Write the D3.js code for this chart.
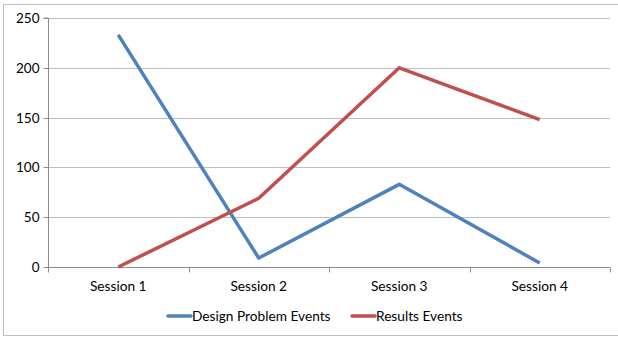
<!DOCTYPE html>
<html>
<head>
<meta charset="utf-8">
<script src="https://cdn.jsdelivr.net/npm/d3@7"></script>
<style>
  html, body { margin: 0; padding: 0; background: #fff; }
  svg { display: block; }
  text { font-family: Lato, "Open Sans", sans-serif; fill: #000; }
</style>
</head>
<body>
<script>
const sessions = ["Session 1", "Session 2", "Session 3", "Session 4"];
const designProblemEvents = [233, 9, 83, 4];
const resultsEvents = [0, 69, 200, 148];
const yTicks = [0, 50, 100, 150, 200, 250];
const seriesNames = ["Design Problem Events", "Results Events"];
const seriesColors = ["#4F81BD", "#C0504D"];

const W = 618, H = 337;
const plot = { left: 48, right: 610, top: 18, bottom: 267 };

const svg = d3.select("body").append("svg").attr("width", W).attr("height", H);

// outer chart frame
svg.append("rect")
  .attr("x", 3.5).attr("y", 4.5)
  .attr("width", 620).attr("height", 331)
  .attr("fill", "none").attr("stroke", "#bfbfbf").attr("stroke-width", 1);

const x = d3.scaleBand().domain(sessions).range([plot.left, plot.right]);
const y = d3.scaleLinear().domain([0, 250]).range([plot.bottom, plot.top]);

// horizontal gridlines
svg.append("g").selectAll("line").data(yTicks.filter(d => d > 0)).join("line")
  .attr("x1", plot.left).attr("x2", plot.right)
  .attr("y1", d => Math.round(y(d)) + 0.5).attr("y2", d => Math.round(y(d)) + 0.5)
  .attr("stroke", "#bfbfbf").attr("stroke-width", 1);

// y axis
const yAxis = svg.append("g")
  .attr("transform", `translate(${plot.left + 0.5},0)`)
  .call(d3.axisLeft(y).tickValues(yTicks).tickSize(5).tickPadding(4).tickFormat(d3.format("d")));
yAxis.select(".domain").attr("stroke", "#8c8c8c").attr("d", `M-5,${plot.top}H0V${plot.bottom + 0.5}`);
yAxis.selectAll(".tick line").attr("stroke", "#8c8c8c");
yAxis.selectAll(".tick").attr("transform", d => `translate(0,${Math.round(y(d)) + 0.5})`);
yAxis.selectAll("text").style("font-size", "13.5px").attr("dy", "0.35em");

// x axis with ticks on band boundaries
const xAxisG = svg.append("g").attr("transform", `translate(0,${plot.bottom + 0.5})`);
xAxisG.append("line")
  .attr("x1", plot.left).attr("x2", plot.right)
  .attr("stroke", "#8c8c8c");
const bounds = sessions.map(s => x(s)).concat([x(sessions[sessions.length - 1]) + x.bandwidth()]);
xAxisG.selectAll("line.tk").data(bounds).join("line").attr("class", "tk")
  .attr("x1", d => Math.round(d) + 0.5).attr("x2", d => Math.round(d) + 0.5)
  .attr("y1", 0).attr("y2", 5).attr("stroke", "#8c8c8c");
xAxisG.selectAll("text").data(sessions).join("text")
  .attr("x", d => x(d) + x.bandwidth() / 2).attr("y", 23)
  .attr("text-anchor", "middle").style("font-size", "13.7px")
  .text(d => d);

// series lines
const line = d3.line()
  .x((d, i) => x(sessions[i]) + x.bandwidth() / 2)
  .y(d => y(d));
[designProblemEvents, resultsEvents].forEach((vals, k) => {
  svg.append("path").datum(vals)
    .attr("d", line)
    .attr("fill", "none")
    .attr("stroke", seriesColors[k])
    .attr("stroke-width", 3.5)
    .attr("stroke-linejoin", "round");
});

// legend
const legendX = [168, 352];
const legend = svg.append("g");
seriesNames.forEach((name, k) => {
  legend.append("line")
    .attr("x1", legendX[k]).attr("x2", legendX[k] + 23)
    .attr("y1", 316).attr("y2", 316)
    .attr("stroke", seriesColors[k]).attr("stroke-width", 3.5)
    .attr("stroke-linecap", "round");
  legend.append("text")
    .attr("x", legendX[k] + 24).attr("y", 321)
    .style("font-size", "13.7px")
    .text(name);
});
</script>
</body>
</html>
